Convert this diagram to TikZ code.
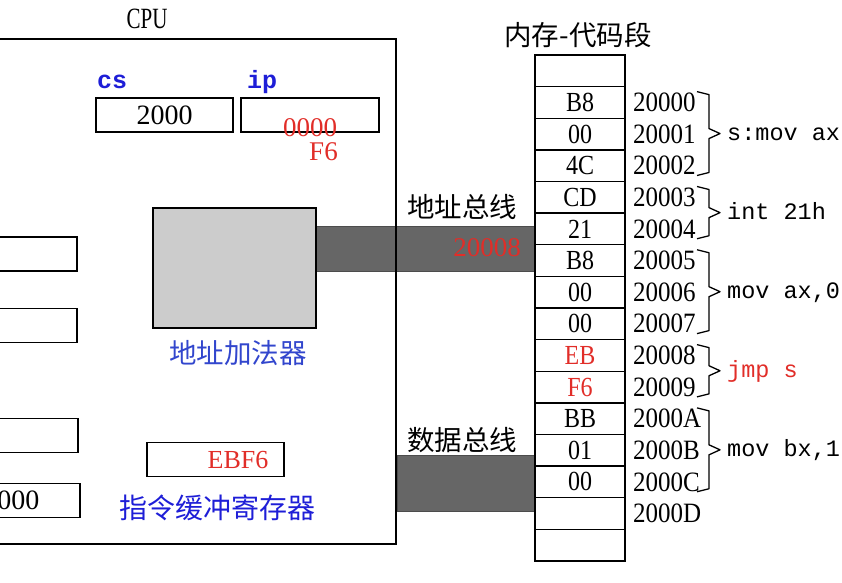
\documentclass[tikz,border=0pt]{standalone}
\usepackage{fontspec}
\setmainfont{Liberation Serif}
\setmonofont{Liberation Mono}
\newfontfamily\cjk{Noto Sans CJK SC}
\definecolor{regblue}{RGB}{30,30,215}
\definecolor{addblue}{RGB}{50,70,205}
\definecolor{hotred}{RGB}{225,45,40}
\definecolor{busgray}{RGB}{102,102,102}
\definecolor{addgray}{RGB}{204,204,204}
\usetikzlibrary{positioning}

\begin{document}
\begin{tikzpicture}[x=1pt,y=-1pt,
  regbox/.style={draw,line width=1.3pt,minimum width=137pt,minimum height=34pt,inner sep=0pt,
    font=\fontsize{28}{30}\selectfont},
  regname/.style={anchor=base west,inner sep=0pt,text=regblue,font=\ttfamily\bfseries\fontsize{25}{26}\selectfont},
  cell/.style={draw,line width=1.3pt,minimum width=90pt,minimum height=31.625pt,inner sep=0pt,
    font=\fontsize{24}{26}\selectfont},
  addr/.style={anchor=west,inner sep=0pt,font=\fontsize{25}{26}\selectfont},
  asm/.style={anchor=base west,inner sep=0pt,font=\ttfamily\fontsize{23.5}{25}\selectfont},
  busbar/.style={draw=black!70,line width=1pt,fill=busgray,inner sep=0pt},
  cnlabel/.style={inner sep=0pt,font=\cjk\fontsize{27.5}{30}\selectfont},
  redval/.style={inner sep=0pt,text=hotred,font=\fontsize{27}{28}\selectfont},
  bracepath/.style={line width=1.3pt,line join=round}
]
  \path[use as bounding box,clip] (0,0) rectangle (842,582);

  % buses (under the CPU frame)
  \node[busbar,minimum width=219pt,minimum height=45pt] (abus) at (425.5,248.5) {};
  \node[busbar,minimum width=138pt,minimum height=56pt] (dbus) at (466,483) {};
  \node[cnlabel] (abusname) at (462,207) {地址总线};
  \node[cnlabel] (dbusname) at (462,440) {数据总线};
  \node[redval] (addrval) at (487,248) {20008};

  % CPU
  \node[draw,line width=1.3pt,minimum width=498pt,minimum height=505pt] (cpu) at (147,291.5) {};
  \node[inner sep=0pt,font=\fontsize{21}{22}\selectfont] (cpuname) at (147,19) {\scalebox{1}[1.4]{CPU}};

  % segment and offset registers
  \node[regbox] (cs) at (164.5,115) {2000};
  \node[regbox,minimum width=138pt] (ip) at (310,115) {};
  \node[regname] (csname) at (97,88) {cs};
  \node[regname] (ipname) at (247,88) {ip};
  \node[redval] (ipold) at (310,128) {0000};
  \node[redval] (ipnew) at (323.5,152) {F6};

  % general registers (cut off at the left)
  \node[regbox] (r1) at (8.5,254) {};
  \node[regbox] (r2) at (8.5,325.5) {};
  \node[regbox] (r3) at (9.5,435.5) {};
  \node[regbox] (r4) at (11.5,500.5) {2000};

  % address adder
  \node[draw,line width=1.3pt,fill=addgray,minimum width=163pt,minimum height=120pt] (adder) at (234.5,268) {};
  \node[cnlabel,text=addblue] (addername) at (238,353) {地址加法器};

  % instruction buffer
  \node[regbox] (buf) at (215.5,459.5) {};
  \node[redval,font=\fontsize{26}{28}\selectfont] (bufval) at (238,460) {EBF6};
  \node[cnlabel,text=regblue,font=\cjk\fontsize{28}{30}\selectfont] (bufname) at (217,508) {指令缓冲寄存器};

  % memory
  \node[cnlabel] (memname) at (578,35) {内存-代码段};
  \foreach \v/\col [count=\i from 0] in {{}/black,B8/black,00/black,4C/black,CD/black,21/black,
      B8/black,00/black,00/black,EB/hotred,F6/hotred,BB/black,01/black,00/black,{}/black,{}/black}
    \node[cell,text=\col] (m\i) at (580,{55+31.625*(\i+0.5)}) {\scalebox{1}[1.15]{\v}};
  \foreach \ad [count=\i] in {20000,20001,20002,20003,20004,20005,20006,
      20007,20008,20009,2000A,2000B,2000C,2000D}
    \node[addr] (a\i) at (633,{55+31.625*(\i+0.5)}) {\scalebox{1}[1.12]{\ad}};

  % instructions
  \foreach \ta/\tb/\ins/\col in {1/3/{s:mov ax}/black,4/5/{int 21h}/black,6/8/{mov ax,0}/black,
      9/10/{jmp s}/hotred,11/13/{mov bx,1}/black}{
    \pgfmathsetmacro\ytop{55+31.625*\ta+5}
    \pgfmathsetmacro\ybot{55+31.625*(\tb+1)-6}
    \pgfmathsetmacro\ymid{(\ytop+\ybot)/2}
    \draw[bracepath] (697,\ytop) -- (709,\ytop+3) -- (709,\ymid-5) -- (720,\ymid)
      -- (709,\ymid+5) -- (709,\ybot-3) -- (697,\ybot);
    \node[asm,text=\col] (ins\ta) at (727,\ymid+7) {\ins};
  }
\end{tikzpicture}
\end{document}
